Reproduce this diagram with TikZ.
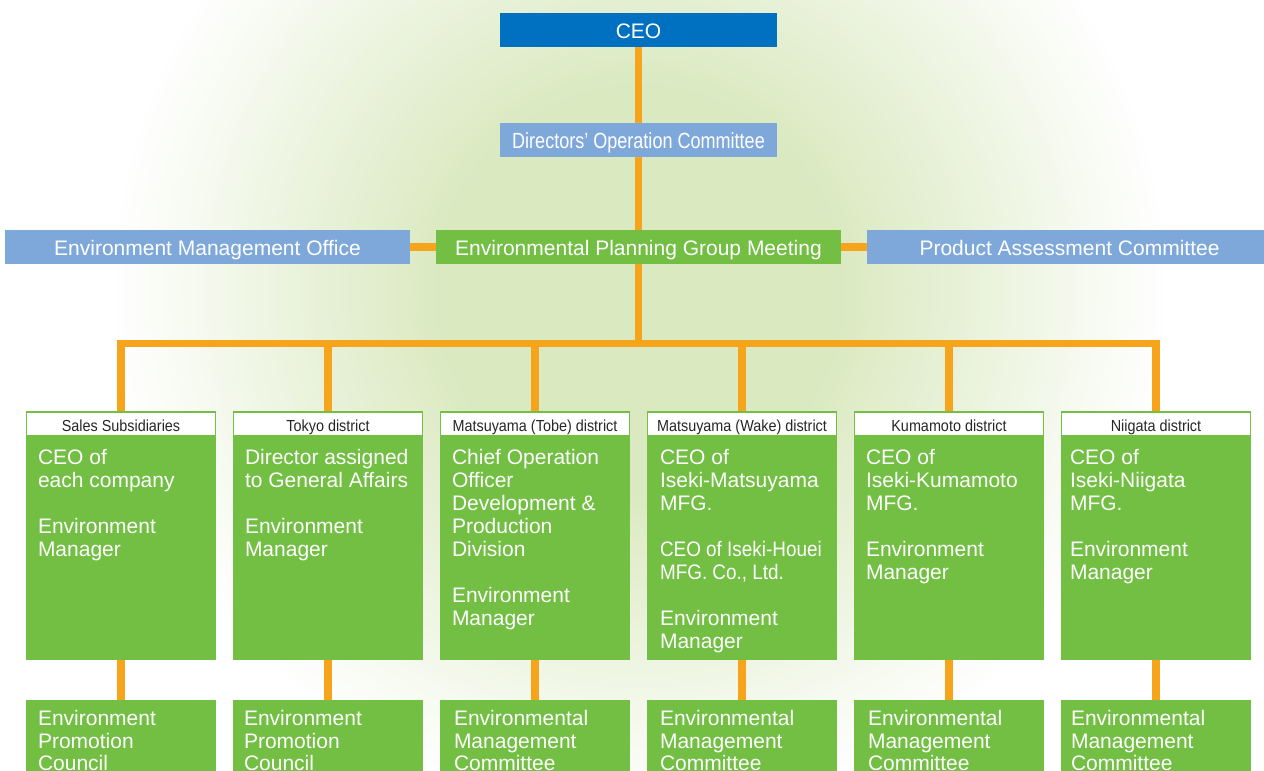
\documentclass[tikz,border=0pt]{standalone}
\usepackage{fontspec}
\setmainfont{Liberation Sans}
\newfontfamily\narrowfont[FakeStretch=0.82]{Liberation Sans}
\newfontfamily\condfont[FakeStretch=0.9]{Liberation Sans}
\usetikzlibrary{positioning}
\definecolor{ceoblue}{HTML}{0070C0}
\definecolor{lightblue}{HTML}{7FA8DA}
\definecolor{leafgreen}{HTML}{72BF44}
\definecolor{linkorange}{HTML}{F7A41D}
\definecolor{glowgreen}{HTML}{DAE9C0}
\pgfdeclarelayer{background}
\pgfdeclarelayer{links}
\pgfsetlayers{background,links,main}
\tikzset{
  topbox/.style={minimum width=277pt, minimum height=34pt, inner sep=0pt, text height=17pt, text depth=0pt, text=white, font=\fontsize{21}{24}\selectfont},
  rowbox/.style={minimum width=405pt, minimum height=34pt, inner sep=0pt, text height=17pt, text depth=0pt, text=white, font=\fontsize{21}{24}\selectfont},
  headbox/.style={draw=leafgreen, line width=1.2pt, fill=white, minimum width=189pt, minimum height=24pt, inner sep=0pt, text height=15.5pt, text depth=0pt, text=black!85, font=\condfont\fontsize{16}{18}\selectfont},
  bodybox/.style={fill=leafgreen, minimum width=190pt, inner sep=0pt},
  bodytext/.style={anchor=north west, inner sep=0pt, align=left, text=white, font=\fontsize{21}{23}\selectfont},
  lowtext/.style={anchor=north west, inner sep=0pt, align=left, text=white, font=\fontsize{21}{22.5}\selectfont},
  link/.style={draw=linkorange, line width=7.5pt},
}
\begin{document}
\begin{tikzpicture}[x=1pt, y=-1pt]
    \useasboundingbox (0,0) rectangle (1264,771);
    \begin{pgfonlayer}{background}
        \fill[white] (0,0) rectangle (1264,771);
        % soft green glow behind the chart
        \foreach \k in {0,...,80} {
            \pgfmathsetmacro\rr{530-\k*6.625}
            \pgfmathsetmacro\pp{min(100,(530-\rr)/3.3)}
            \fill[glowgreen!\pp!white] (640,290) circle[radius=\rr];
        }
    \end{pgfonlayer}
    % top of the chart
    \node[topbox, fill=ceoblue] (ceo) at (638.5,30) {CEO};
    \node[topbox, fill=lightblue, text height=17.75pt] (doc) at (638.5,140) {\narrowfont\fontsize{22}{24}\selectfont Directors’ Operation Committee};
    \node[rowbox, fill=lightblue] (emo) at (207.5,247) {Environment Management Office};
    \node[rowbox, fill=leafgreen] (epg) at (638.5,247) {Environmental Planning Group Meeting};
    \node[rowbox, fill=lightblue] (pac) at (1069.5,247) {Product Assessment Committee};
    \coordinate (busy) at (638.5,343.5);
    % district boxes
    \foreach \i/\cx/\name in {1/121/Sales Subsidiaries, 2/328/Tokyo district, 3/535/Matsuyama (Tobe) district, 4/742/Matsuyama (Wake) district, 5/949/Kumamoto district, 6/1156/Niigata district} {
        \node[headbox] (head\i) at (\cx,424) {\name};
        \node[bodybox, minimum height=224pt, anchor=north] (body\i) at (\cx,436) {};
        \node[bodybox, minimum height=80pt, anchor=north] (low\i) at (\cx,700) {};
    }
    \node[bodytext] (txt1) at ([xshift=12pt, yshift=-13.5pt]body1.north west) {CEO of\\each company\\[23pt]Environment\\Manager};
    \node[bodytext] (txt2) at ([xshift=12pt, yshift=-13.5pt]body2.north west) {Director assigned\\to General Affairs\\[23pt]Environment\\Manager};
    \node[bodytext] (txt3) at ([xshift=12pt, yshift=-13.5pt]body3.north west) {Chief Operation\\Officer\\Development \&\\Production\\Division\\[23pt]Environment\\Manager};
    \node[bodytext] (txt4) at ([xshift=13pt, yshift=-13.5pt]body4.north west) {CEO of\\Iseki-Matsuyama\\MFG.\\[23pt]{\condfont CEO of Iseki-Houei}\\{\condfont MFG. Co., Ltd.}\\[23pt]Environment\\Manager};
    \node[bodytext] (txt5) at ([xshift=12pt, yshift=-13.5pt]body5.north west) {CEO of\\Iseki-Kumamoto\\MFG.\\[23pt]Environment\\Manager};
    \node[bodytext] (txt6) at ([xshift=9pt, yshift=-13.5pt]body6.north west) {CEO of\\Iseki-Niigata\\MFG.\\[23pt]Environment\\Manager};
    \foreach \i/\dx in {1/12, 2/11} {
        \node[lowtext] (lowtxt\i) at ([xshift=\dx pt, yshift=-10.5pt]low\i.north west) {Environment\\Promotion\\Council};
    }
    \foreach \i/\dx in {3/14, 4/13, 5/14, 6/10} {
        \node[lowtext] (lowtxt\i) at ([xshift=\dx pt, yshift=-10.5pt]low\i.north west) {Environmental\\Management\\Committee};
    }
    % connectors
    \begin{pgfonlayer}{links}
        \draw[link] (ceo) -- (epg);
        \draw[link] (emo.east) -- (epg.west);
        \draw[link] (epg.east) -- (pac.west);
        \draw[link] (epg.south) -- (epg.south |- busy);
        \draw[link, line cap=rect] (head1.north |- busy) -- (head6.north |- busy);
        \foreach \i in {1,...,6} {
            \draw[link] (head\i.north |- busy) -- (head\i.north);
            \draw[link] (body\i.south) -- (low\i.north);
        }
    \end{pgfonlayer}
\end{tikzpicture}
\end{document}
